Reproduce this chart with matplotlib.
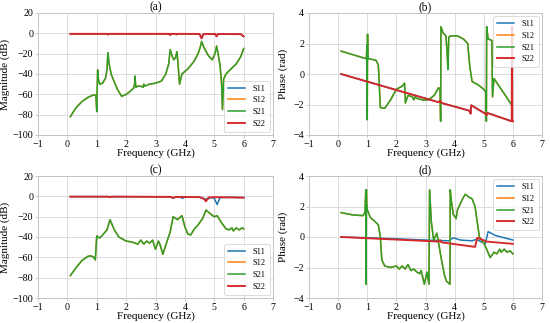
import matplotlib
matplotlib.use("Agg")
import matplotlib.pyplot as plt

plt.rcParams['font.family'] = ['Liberation Serif', 'DejaVu Serif']
plt.rcParams['mathtext.default'] = 'regular'

series_names = ["S11", "S12", "S21", "S22"]
colors = ["#1f77b4", "#ff7f0e", "#2ca02c", "#d62728"]

# ---------------- (a) simulated magnitude (dB) ----------------
a_s21_f = [0.1, 0.3, 0.5, 0.7, 0.9, 0.97, 1.0, 1.03, 1.06, 1.1, 1.2, 1.3, 1.35, 1.38, 1.42, 1.5, 1.6, 1.7, 1.85,
           2.0, 2.1, 2.25, 2.29, 2.3, 2.33, 2.4, 2.5, 2.58, 2.6, 2.62, 2.8, 3.0, 3.2, 3.35, 3.45, 3.5, 3.56, 3.62,
           3.68, 3.73, 3.78, 3.82, 3.9, 4.1, 4.3, 4.45, 4.52, 4.57, 4.65, 4.8, 4.93, 5.0, 5.05, 5.08, 5.13, 5.2,
           5.25, 5.28, 5.32, 5.4, 5.5, 5.75, 5.9, 6.0]
a_s21_db = [-82, -73, -67, -63, -60.5, -61, -77, -36, -46, -50, -49, -44, -35, -19, -30, -41, -48, -55, -62,
            -60, -58, -54, -50, -42, -53, -52, -52, -53, -50, -52, -50, -49, -47, -40, -30, -16, -22, -26,
            -24, -18, -35, -50, -40, -35, -28, -20, -14, -8, -14, -22, -26, -22, -17, -12.5, -20, -32,
            -50, -75, -45, -40, -37, -30, -23, -15]
a_s12_f = a_s21_f
a_s12_db = a_s21_db
a_s22_f = [0.1, 1.35, 1.38, 1.41, 3.47, 3.5, 3.53, 3.68, 3.71, 3.74, 4.5, 4.57, 4.63, 5.03, 5.08, 5.12, 5.9, 6.0]
a_s22_db = [-0.5, -0.5, -1.2, -0.5, -0.5, -1.8, -0.5, -0.5, -1.2, -0.5, -0.6, -5, -0.8, -0.6, -3, -0.7, -0.8, -3]
a_s11_f = a_s22_f
a_s11_db = a_s22_db

# ---------------- (b) simulated phase (rad) ----------------
b_s22_f = [0.1, 3.45, 3.5, 3.55, 4.5, 4.55, 4.57, 5.05, 5.1, 5.12, 5.96, 5.97, 5.98, 6.0]
b_s22_ph = [0.0, -1.85, -1.75, -1.9, -2.4, -2.6, -2.05, -2.6, -2.7, -2.55, -3.1, 3.1, -3.1, -3.1]
b_s11_f = b_s22_f
b_s11_ph = b_s22_ph
b_s21_f = [0.1, 0.97, 0.99, 1.0, 1.01, 1.02, 1.03, 1.06, 1.3, 1.38, 1.45, 1.6, 1.8, 2.0, 2.2, 2.28, 2.31,
           2.4, 2.55, 2.6, 2.63, 2.7, 2.9, 3.1, 3.3, 3.45, 3.5, 3.52, 3.53, 3.6, 3.7, 3.74, 3.77, 3.8, 3.85,
           4.1, 4.3, 4.45, 4.52, 4.6, 4.8, 5.0, 5.08, 5.09, 5.1, 5.15, 5.28, 5.3, 5.35, 5.6, 5.95]
b_s21_ph = [1.5, 1.0, 1.9, -3.0, 2.6, 1.2, 1.0, 1.0, 0.9, 0.6, -2.2, -2.25, -1.7, -1.0, -0.8, -0.6, -1.9,
            -1.4, -1.5, -1.7, -1.5, -1.6, -1.7, -1.7, -1.4, -0.9, -1.0, -3.1, 3.1, 2.7, 2.5, 1.5, 0.3, 2.4, 2.5,
            2.5, 2.3, 2.0, 0.5, -0.5, -0.7, -1.0, -1.2, -3.1, 3.1, 2.3, 2.2, -1.5, -0.3, -1.0, -2.0]
b_s12_f = b_s21_f
b_s12_ph = b_s21_ph

# ---------------- (c) measured magnitude (dB) ----------------
c_s21_f = [0.1, 0.3, 0.5, 0.7, 0.8, 0.9, 0.95, 1.0, 1.1, 1.2, 1.35, 1.45, 1.6, 1.75, 2.0, 2.2, 2.4, 2.5, 2.6,
           2.7, 2.8, 2.9, 3.0, 3.1, 3.15, 3.25, 3.35, 3.5, 3.6, 3.75, 3.9, 4.0, 4.1, 4.2, 4.3, 4.45, 4.6, 4.72,
           4.9, 5.0, 5.1, 5.25, 5.4, 5.5, 5.6, 5.65, 5.75, 5.85, 5.95, 6.0]
c_s21_db = [-78, -70, -63, -59, -58.5, -60, -62.5, -39, -41, -38, -33, -23, -33, -40, -44, -45, -47, -43, -47,
            -44, -46, -43, -52, -44, -47, -57, -48, -35, -20, -23, -19, -30, -37, -38, -33, -28, -22, -13.5,
            -18, -20, -19, -26, -32, -33, -31, -34, -31, -33, -31, -32]
c_s12_f = c_s21_f
c_s12_db = c_s21_db
c_s11_f = [0.1, 1.4, 1.45, 1.5, 3.5, 3.6, 3.7, 3.85, 3.92, 4.0, 4.5, 4.75, 4.9, 5.0, 5.1, 5.2, 5.5, 6.0]
c_s11_db = [-0.3, -0.3, -0.9, -0.3, -0.5, -1.8, -0.6, -0.8, -2.0, -0.8, -0.8, -3.0, -1.0, -2.0, -8.0, -1.2, -1.0, -1.2]
c_s22_f = [0.1, 1.4, 1.45, 1.5, 3.5, 3.6, 3.7, 4.5, 4.65, 4.72, 4.8, 5.0, 5.5, 6.0]
c_s22_db = [-0.3, -0.3, -0.9, -0.3, -0.5, -1.5, -0.5, -0.8, -2.5, -5.0, -1.2, -0.8, -1.0, -1.3]

# ---------------- (d) measured phase (rad) ----------------
d_s21_f = [0.1, 0.5, 0.85, 0.92, 0.95, 0.96, 0.97, 0.98, 1.0, 1.1, 1.3, 1.38, 1.45, 1.5, 1.6, 1.8, 2.0, 2.1,
           2.2, 2.3, 2.4, 2.5, 2.6, 2.7, 2.8, 2.85, 2.96, 3.05, 3.12, 3.14, 3.2, 3.28, 3.33, 3.39, 3.45, 3.55,
           3.65, 3.72, 3.84, 3.85, 3.88, 3.95, 4.05, 4.1, 4.2, 4.3, 4.37, 4.5, 4.6, 4.7, 4.85, 5.0, 5.1, 5.22,
           5.35, 5.45, 5.55, 5.6, 5.7, 5.8, 5.9, 6.0]
d_s21_ph = [1.6, 1.45, 1.4, 1.6, 3.1, -3.1, 3.1, 2.2, 1.8, 1.3, 0.95, 0.8, 0.0, -1.5, -1.9, -2.0, -1.9, -2.1,
            -1.9, -2.1, -1.8, -2.2, -2.1, -2.3, -2.4, -2.2, -3.1, -2.3, -3.1, 3.1, 1.0, -0.2, 0.0, 0.25, -0.4,
            -1.5, -2.5, -2.9, -3.1, 3.1, 2.5, 1.5, 1.2, 1.8, 2.2, 2.6, 2.8, 2.6, 2.5, 2.0, 0.0, -0.4, -0.8,
            -1.35, -1.0, -1.1, -0.8, -1.0, -0.8, -1.0, -0.9, -1.1]
d_s12_f = d_s21_f
d_s12_ph = d_s21_ph
d_s11_f = [0.1, 1.0, 2.0, 3.0, 3.8, 3.95, 4.2, 4.6, 4.75, 5.05, 5.15, 5.4, 5.7, 6.0]
d_s11_ph = [0.0, -0.05, -0.12, -0.2, -0.25, -0.05, -0.2, -0.25, -0.15, -0.45, 0.35, 0.1, -0.05, -0.2]
d_s22_f = [0.1, 3.45, 3.5, 3.55, 4.7, 4.78, 5.1, 6.0]
d_s22_ph = [0.0, -0.3, -0.2, -0.35, -0.65, -0.05, -0.3, -0.45]

panels = [
    dict(title="(a)", ylabel="Magnitude (dB)", ylim=(-100, 20), yticks=range(-100, 21, 20), loc="lower right",
         data=[(a_s11_f, a_s11_db), (a_s12_f, a_s12_db), (a_s21_f, a_s21_db), (a_s22_f, a_s22_db)],
         rect=[38, 13, 235, 122], ylab_x=10),
    dict(title="(b)", ylabel="Phase (rad)", ylim=(-4, 4), yticks=range(-4, 5, 2), loc="upper right",
         data=[(b_s11_f, b_s11_ph), (b_s12_f, b_s12_ph), (b_s21_f, b_s21_ph), (b_s22_f, b_s22_ph)],
         rect=[309, 13, 233, 122], ylab_x=288),
    dict(title="(c)", ylabel="Magnitude (dB)", ylim=(-100, 20), yticks=range(-100, 21, 20), loc="lower right",
         data=[(c_s11_f, c_s11_db), (c_s12_f, c_s12_db), (c_s21_f, c_s21_db), (c_s22_f, c_s22_db)],
         rect=[38, 176, 235, 122], ylab_x=10),
    dict(title="(d)", ylabel="Phase (rad)", ylim=(-4, 4), yticks=range(-4, 5, 2), loc="upper right",
         data=[(d_s11_f, d_s11_ph), (d_s12_f, d_s12_ph), (d_s21_f, d_s21_ph), (d_s22_f, d_s22_ph)],
         rect=[309, 176, 233, 122], ylab_x=288),
]

W, H = 550, 323
fig = plt.figure(figsize=(W / 100, H / 100), dpi=100)
line_widths = [1.1, 1.1, 1.1, 1.35]

for p in panels:
    x0, y0, w, h = p["rect"]
    ax = fig.add_axes([x0 / W, 1 - (y0 + h) / H, w / W, h / H])
    for (f, v), name, c, lw in zip(p["data"], series_names, colors, line_widths):
        ax.plot(f, v, color=c, lw=lw, label=name)
    ax.set_xlim(-1, 7)
    ax.set_xticks(range(-1, 8))
    ax.set_ylim(*p["ylim"])
    ax.set_yticks(list(p["yticks"]))
    ax.grid(True, color="#dcdcdc", lw=0.7)
    ax.set_axisbelow(True)
    for s in ax.spines.values():
        s.set_color("#c4c4c4")
        s.set_linewidth(0.7)
    ax.tick_params(labelsize=7.2, length=2, width=0.6, color="#c4c4c4", pad=1.5)
    ax.set_xlabel("Frequency (GHz)", fontsize=8, labelpad=0)
    ax.set_ylabel(p["ylabel"], fontsize=8)
    ax.yaxis.set_label_coords((p["ylab_x"] - x0) / w, 0.5)
    ax.set_title(p["title"], fontsize=8.3, pad=1.5)
    leg = ax.legend(loc=p["loc"], fontsize=6, frameon=True, fancybox=True, handlelength=2.0,
                    borderpad=0.45, labelspacing=0.45, handletextpad=1.0, borderaxespad=0.4)
    leg.get_frame().set_edgecolor("#cccccc")
    leg.get_frame().set_linewidth(0.6)

fig.savefig("out.png", dpi=100)
